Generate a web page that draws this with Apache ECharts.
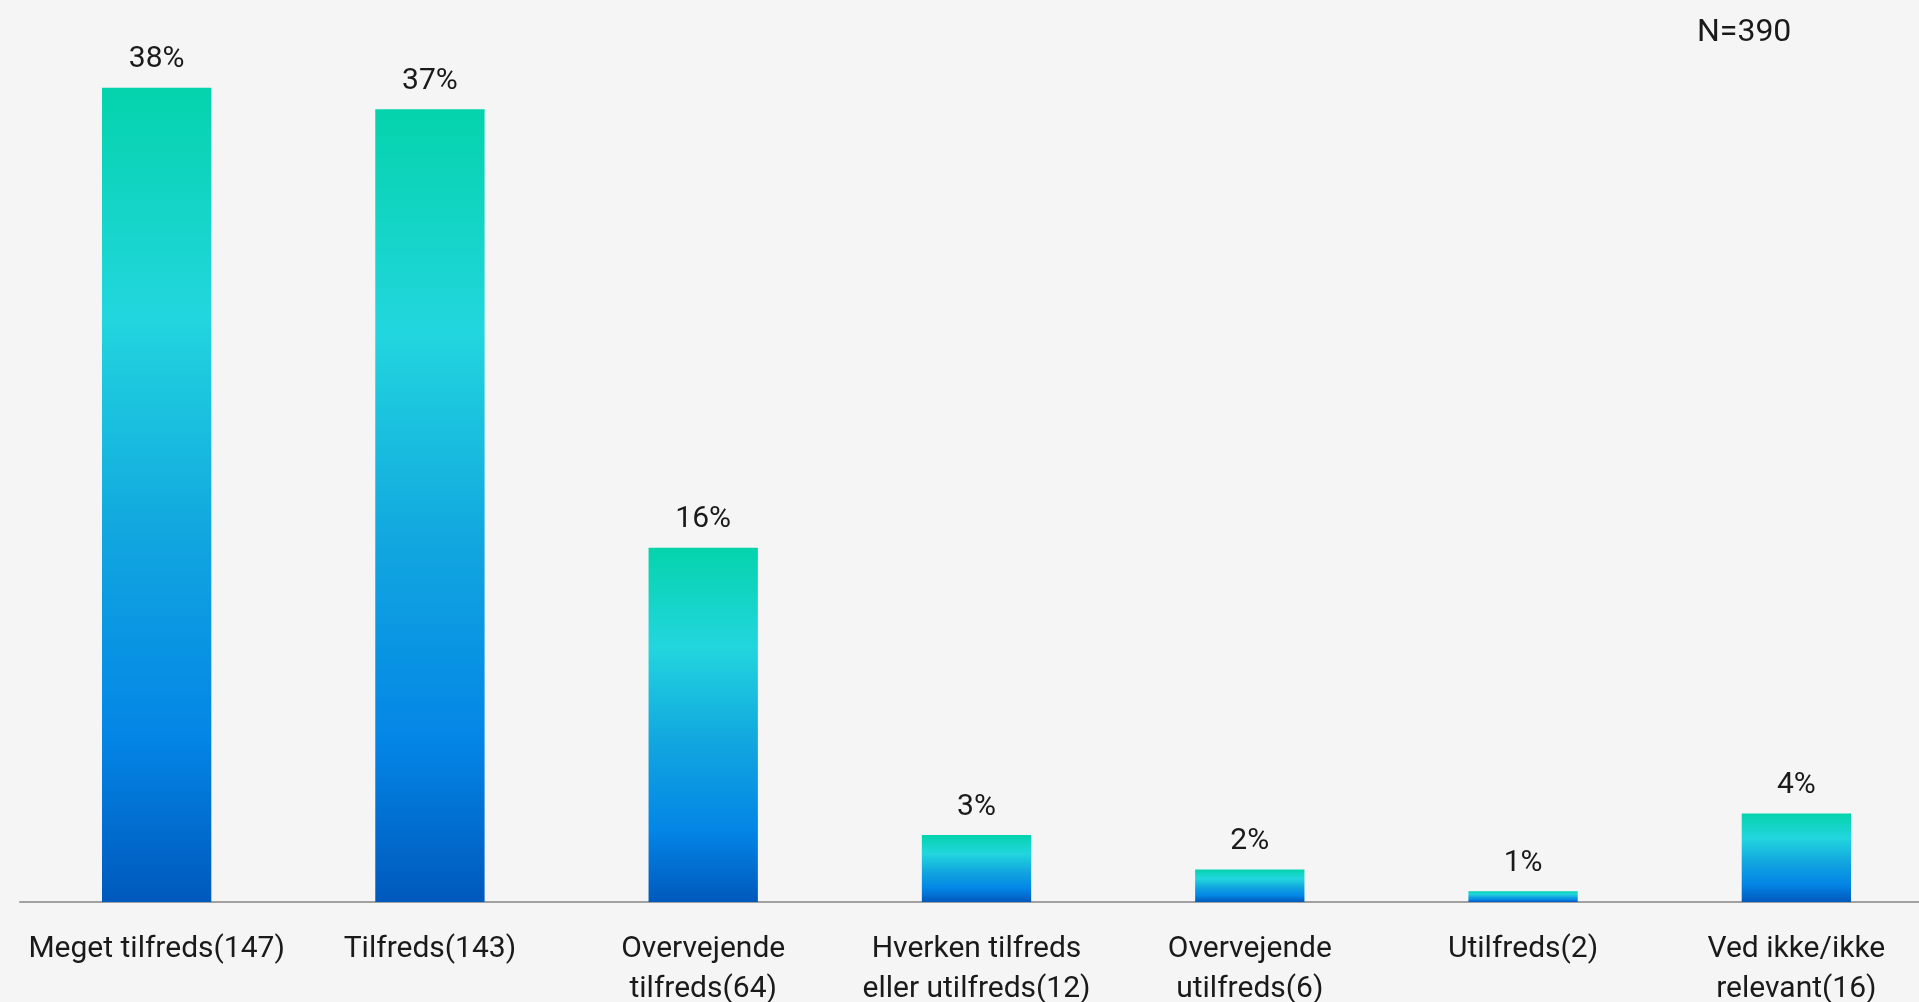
<!DOCTYPE html>
<html>
<head>
<meta charset="utf-8">
<script src="https://cdn.jsdelivr.net/npm/echarts@6/dist/echarts.min.js"></script>
<style>
html,body{margin:0;padding:0;background:#f5f5f5;}
#chart{width:1919px;height:1002px;}
</style>
</head>
<body>
<div id="chart"></div>
<script>
var categories = [
  'Meget tilfreds(147)',
  'Tilfreds(143)',
  'Overvejende\ntilfreds(64)',
  'Hverken tilfreds\neller utilfreds(12)',
  'Overvejende\nutilfreds(6)',
  'Utilfreds(2)',
  'Ved ikke/ikke\nrelevant(16)'
];
var percentValues = [37.7, 36.7, 16.4, 3.1, 1.5, 0.5, 4.1];
var percentLabels = ['38%', '37%', '16%', '3%', '2%', '1%', '4%'];
var sampleNote = 'N=390';

var chart = echarts.init(document.getElementById('chart'));
var barGradient = new echarts.graphic.LinearGradient(0, 0, 0, 1, [
  {offset: 0, color: '#04D3AC'},
  {offset: 0.28, color: '#22D6DE'},
  {offset: 0.55, color: '#11A6DF'},
  {offset: 0.8, color: '#0385E6'},
  {offset: 1, color: '#0059BC'}
]);
chart.setOption({
  backgroundColor: '#f5f5f5',
  animation: false,
  graphic: [{
    type: 'text',
    left: 1697,
    top: 17,
    style: {text: sampleNote, font: '32px Roboto', fill: '#1a1a1a'}
  }],
  grid: {left: 20, width: 1913, top: 38, bottom: 100, containLabel: false, outerBoundsMode: 'none'},
  xAxis: {
    type: 'category',
    data: categories,
    axisLine: {show: true, lineStyle: {color: '#a0a0a0', width: 2}},
    axisTick: {show: false},
    axisLabel: {
      interval: 0,
      margin: 27,
      fontFamily: 'Roboto',
      fontSize: 30,
      lineHeight: 40,
      color: '#1a1a1a',
      align: 'center'
    }
  },
  yAxis: {
    type: 'value', min: 0, max: 40, show: false,
    splitLine: {show: false}
  },
  series: [{
    type: 'bar',
    data: percentValues,
    barWidth: '40%',
    itemStyle: {color: barGradient},
    label: {
      show: true,
      position: 'top',
      distance: 13,
      fontFamily: 'Roboto',
      fontSize: 30,
      color: '#1a1a1a',
      formatter: function (p) { return percentLabels[p.dataIndex]; }
    }
  }]
});
</script>
</body>
</html>
